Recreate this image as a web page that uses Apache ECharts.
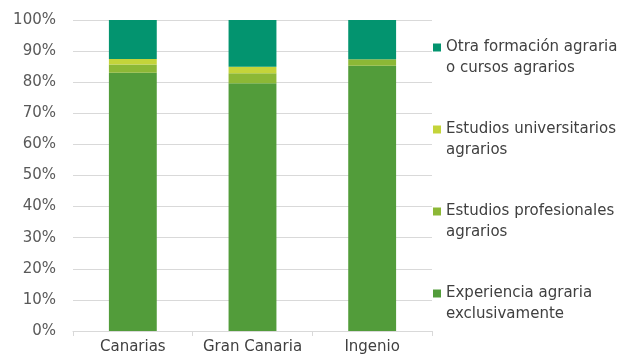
<!DOCTYPE html>
<html><head><meta charset="utf-8">
<script src="https://cdn.jsdelivr.net/npm/echarts@6/dist/echarts.min.js"></script>
<style>html,body{margin:0;padding:0;background:#fff}#c{width:625px;height:356px}</style>
</head><body><div id="c"></div>
<script>
const categories = ['Canarias', 'Gran Canaria', 'Ingenio'];
const seriesNames = ['Experiencia agraria exclusivamente', 'Estudios profesionales agrarios', 'Estudios universitarios agrarios', 'Otra formación agraria o cursos agrarios'];
const legendLabels = {
  'Experiencia agraria exclusivamente': 'Experiencia agraria\nexclusivamente',
  'Estudios profesionales agrarios': 'Estudios profesionales\nagrarios',
  'Estudios universitarios agrarios': 'Estudios universitarios\nagrarios',
  'Otra formación agraria o cursos agrarios': 'Otra formación agraria\no cursos agrarios'
};
const experiencia = [83.0, 79.7, 85.3];
const profesionales = [2.7, 3.2, 2.1];
const universitarios = [1.8, 2.1, 0.0];
const otra = [12.5, 15.0, 12.6];
const colors = ['#529c3a', '#8cb836', '#c4d43a', '#03946f'];
const values = [experiencia, profesionales, universitarios, otra];

const chart = echarts.init(document.getElementById('c'), null, {renderer: 'canvas'});
chart.setOption({
  animation: false,
  textStyle: {fontFamily: 'DejaVu Sans'},
  grid: {left: 73, right: 193, top: 20, bottom: 25, containLabel: false},
  xAxis: {
    type: 'category', data: categories,
    axisLine: {lineStyle: {color: '#d9d9d9'}},
    axisTick: {show: true, length: 5, lineStyle: {color: '#d9d9d9'}},
    axisLabel: {color: '#404040', fontSize: 15, margin: 9, interval: 0}
  },
  yAxis: {
    type: 'value', min: 0, max: 100, interval: 10,
    axisLine: {show: false}, axisTick: {show: false},
    splitLine: {lineStyle: {color: '#d9d9d9'}},
    axisLabel: {formatter: '{value}%', color: '#595959', fontSize: 15, margin: 17}
  },
  legend: {
    orient: 'vertical', left: 433, top: 16, padding: 0,
    itemWidth: 8, itemHeight: 8, itemGap: 19, icon: 'rect',
    data: seriesNames.slice().reverse(),
    formatter: n => '\n' + legendLabels[n],
    textStyle: {color: '#404040', fontSize: 15, lineHeight: 21}
  },
  series: seriesNames.map((n, i) => ({
    name: n, type: 'bar', stack: 'total', barWidth: '40%',
    data: values[i], itemStyle: {color: colors[i]}
  }))
});
</script></body></html>
